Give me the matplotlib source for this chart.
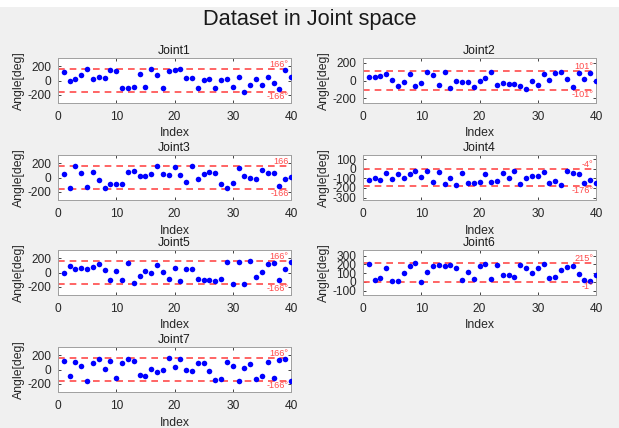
import numpy as np
import matplotlib
matplotlib.use("Agg")
import matplotlib.pyplot as plt
from matplotlib.patches import Rectangle

plt.rcParams['font.family'] = ['Liberation Sans', 'DejaVu Sans']
plt.rcParams['axes.unicode_minus'] = False

index = list(range(1, 41))

joint1 = [125, -10, 25, 73, 160, 20, 54, 29, 151, 132, -112, -112, -88, 93, -98, 160, 78, -107, 132, 146,
          161, 29, 29, -107, 10, 20, -112, 5, 15, -98, 49, -156, -59, 15, -59, 44, -39, -122, 146, 54]
joint2 = [36, 40, 51, 73, 7, -65, -22, 69, -62, -29, 95, 65, -51, 100, -84, -11, -15, -15, -73, -11,
          25, 98, -55, -25, -44, -40, -58, -91, -7, -47, 76, 7, 87, 98, 18, -73, 87, 18, 80, -11]
joint3 = [45, -150, 155, 60, -140, 75, -35, -145, -95, -85, -90, 75, 95, 25, 25, 50, 165, 55, 40, 145,
          30, -60, 160, -20, 45, 80, 70, -95, -145, -80, 135, 25, -10, -20, 100, 60, 60, -125, -25, 5]
joint4 = [-113, -93, -120, -44, -110, -54, -93, -54, -17, -87, -24, -136, -30, -156, -97, -166, -40, -143, -143, -140,
          -57, -136, -123, -44, -90, -24, -163, -100, -77, -77, -37, -150, -123, -173, -17, -47, -50, -146, -113, -143]
joint5 = [0, 97, 46, 60, 46, 74, 115, 41, -111, 23, -111, 134, -143, -55, 28, -14, 101, 9, -88, 69,
          -115, 51, 46, -88, -106, -111, -115, -97, 147, -161, 152, -157, 157, -65, 9, 115, 129, -106, 55, 147]
joint6 = [210, 19, 39, 162, 8, 12, 104, 181, 212, 0, 116, 185, 197, 181, 193, 162, 23, 112, 35, 178,
          201, 35, 193, 81, 81, 58, 189, 162, 96, 154, 205, 39, 50, 139, 174, 185, 85, 23, 15, 77]
joint7 = [115, -96, 101, 54, -157, 96, 143, 2, 115, -119, 87, 143, 115, -77, -96, 12, -35, -2, 160, 35,
          152, -2, -16, 96, 87, -16, -147, -133, 101, 54, -157, 21, 73, -129, -96, 105, -119, 133, 147, -161]

joint_data = [joint1, joint2, joint3, joint4, joint5, joint6, joint7]
joint_names = ["Joint1", "Joint2", "Joint3", "Joint4", "Joint5", "Joint6", "Joint7"]
upper_limits = [166, 101, 166, -4, 166, 215, 166]
lower_limits = [-166, -101, -166, -176, -166, -1, -166]
limit_suffix = ["°", "°", "", "°", "°", "°", "°"]
ytick_sets = [
    [-200, 0, 200],
    [-200, 0, 200],
    [-200, 0, 200],
    [-300, -200, -100, 0, 100],
    [-200, 0, 200],
    [-100, 0, 100, 200, 300],
    [-200, 0, 200],
]
xticks = [0, 10, 20, 30, 40]

W, H = 619, 428
fig = plt.figure(figsize=(W / 100, H / 100), dpi=100)
fig.patch.set_facecolor('#f0f0f0')
fig.patches.append(Rectangle((0, 1 - 7 / H), 1, 7 / H, transform=fig.transFigure,
                             facecolor='white', edgecolor='none', zorder=-1))

col_x = [58, 363]
ax_w = 233
row_top = [58, 155, 250, 347]
ax_h = 45

red = '#ff4a4a'
edge = '#262626'

for i, (name, data) in enumerate(zip(joint_names, joint_data)):
    r, c = divmod(i, 2)
    left = col_x[c] / W
    bottom = 1 - (row_top[r] + ax_h) / H
    ax = fig.add_axes([left, bottom, ax_w / W, ax_h / H])
    ax.set_facecolor('white')
    lo, hi = lower_limits[i], upper_limits[i]
    ax.plot(index, data, 'o', color='#0000ff', markersize=4, markeredgewidth=0, zorder=3)
    ax.axhline(hi, color=red, linestyle=(0, (4, 3)), linewidth=1.2, zorder=2)
    ax.axhline(lo, color=red, linestyle=(0, (4, 3)), linewidth=1.2, zorder=2)
    ax.set_xlim(0, 40)
    ax.set_ylim(lo - 150, hi + 150)
    ax.set_xticks(xticks)
    ax.set_yticks(ytick_sets[i])
    ax.tick_params(direction='in', length=2.5, width=0.6, labelsize=8.6, colors=edge,
                   top=True, right=True)
    ax.tick_params(axis='x', pad=6)
    ax.tick_params(axis='y', pad=5)
    for s in ax.spines.values():
        s.set_color('#a0a0a0')
        s.set_linewidth(0.7)
    ax.set_title(name, fontsize=8.8, color='#1a1a1a', pad=3)
    ax.set_xlabel("Index", fontsize=8.8, color='#262626', labelpad=3)
    ax.set_ylabel("Angle[deg]", fontsize=8.8, color='#262626', labelpad=2)
    suf = limit_suffix[i]
    ax.text(39.6, hi, f"{hi}{suf}", color=red, fontsize=6.6, ha='right', va='bottom', zorder=4)
    ax.text(39.6, lo, f"{lo}{suf}", color=red, fontsize=6.6, ha='right', va='top', zorder=4)

fig.text(0.5, 1 - 19 / H, "Dataset in Joint space", ha='center', va='center', fontsize=15.7, color='#1a1a1a')

fig.savefig("out.png", dpi=100, facecolor=fig.get_facecolor())
